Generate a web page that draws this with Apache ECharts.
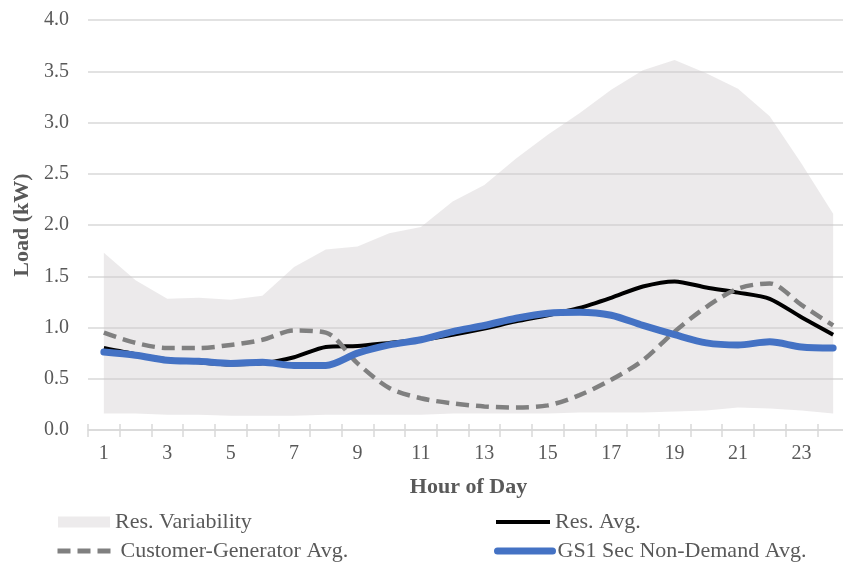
<!DOCTYPE html>
<html>
<head>
<meta charset="utf-8">
<script src="https://cdn.jsdelivr.net/npm/echarts@6/dist/echarts.min.js"></script>
<style>
html,body{margin:0;padding:0;background:#fff;}
#chart{width:843px;height:565px;}
</style>
</head>
<body>
<div id="chart"></div>
<script>
var hours = ['1','2','3','4','5','6','7','8','9','10','11','12','13','14','15','16','17','18','19','20','21','22','23','24'];
var yTicks = [0, 0.5, 1, 1.5, 2, 2.5, 3, 3.5, 4];
var resUpper = [1.73,1.46,1.28,1.29,1.27,1.31,1.59,1.76,1.79,1.92,1.98,2.23,2.39,2.65,2.88,3.09,3.32,3.51,3.61,3.48,3.33,3.06,2.60,2.11];
var resLower = [0.16,0.16,0.15,0.15,0.14,0.14,0.14,0.15,0.15,0.15,0.15,0.16,0.16,0.16,0.16,0.17,0.17,0.17,0.18,0.19,0.22,0.21,0.19,0.16];
var resAvg = [0.80,0.74,0.69,0.66,0.64,0.65,0.71,0.81,0.82,0.85,0.88,0.93,0.99,1.06,1.12,1.19,1.29,1.40,1.45,1.39,1.34,1.28,1.10,0.93];
var custGen = [0.95,0.85,0.80,0.80,0.83,0.88,0.97,0.95,0.65,0.41,0.31,0.26,0.23,0.22,0.24,0.34,0.49,0.68,0.96,1.20,1.38,1.43,1.22,1.02];
var gs1 = [0.76,0.73,0.68,0.67,0.65,0.66,0.63,0.63,0.75,0.83,0.88,0.96,1.02,1.09,1.14,1.15,1.12,1.02,0.93,0.85,0.83,0.86,0.81,0.80];

var bandSpan = resUpper.map(function(v, i){ return +(v - resLower[i]).toFixed(3); });

var FONT = 'Liberation Serif';
var TXT = '#595959';
var GRID = '#D9D9D9';

function legendAt(name, left, top, w, h, extra) {
  var o = {
    data: [name],
    left: left, top: top,
    itemWidth: w, itemHeight: h,
    padding: 0,
    selectedMode: false,
    textStyle: {fontFamily: FONT, fontSize: 22, color: TXT}
  };
  for (var k in extra) o[k] = extra[k];
  return o;
}

var chart = echarts.init(document.getElementById('chart'));
chart.setOption({
  animation: false,
  backgroundColor: '#ffffff',
  grid: {left: 88, right: -6, top: 20, bottom: 135, containLabel: false, outerBoundsMode: 'none'},
  legend: [
    legendAt('Res. Variability', 58, 511, 52, 11, {icon: 'rect', itemStyle: {color: '#EDEBEC', borderWidth: 0, opacity: 1}}),
    legendAt('Res. Avg.', 494, 511, 54, 12, {lineStyle: {width: 4}, itemStyle: {opacity: 0}}),
    legendAt('Customer-Generator Avg.', 55, 540, 58, 12, {lineStyle: {width: 5}, itemStyle: {opacity: 0}}),
    legendAt('GS1 Sec Non-Demand Avg.', 494, 540, 55, 12, {lineStyle: {width: 7}, itemStyle: {opacity: 0}})
  ],
  xAxis: [{
    type: 'category',
    data: hours,
    boundaryGap: true,
    name: 'Hour of Day',
    nameLocation: 'middle',
    nameGap: 46,
    nameTextStyle: {fontFamily: FONT, fontSize: 22, fontWeight: 'bold', color: TXT},
    axisLine: {show: true, lineStyle: {color: GRID, width: 1.5}},
    axisTick: {show: true, interval: 0, length: 7, lineStyle: {color: GRID, width: 1.5}},
    axisLabel: {interval: 1, margin: 14, fontFamily: FONT, fontSize: 20, color: TXT},
    splitLine: {show: false}
  }, {
    type: 'category',
    data: hours,
    boundaryGap: true,
    position: 'bottom',
    axisLine: {show: false},
    axisTick: {show: true, inside: true, interval: 0, length: 6, lineStyle: {color: GRID, width: 1.5}},
    axisLabel: {show: false},
    splitLine: {show: false}
  }],
  yAxis: {
    type: 'value',
    min: yTicks[0],
    max: yTicks[yTicks.length - 1],
    interval: 0.5,
    name: 'Load (kW)',
    nameLocation: 'middle',
    nameGap: 55,
    nameRotate: 90,
    nameTextStyle: {fontFamily: FONT, fontSize: 22, fontWeight: 'bold', color: TXT},
    axisLine: {show: false},
    axisTick: {show: false},
    axisLabel: {margin: 19, fontFamily: FONT, fontSize: 20, color: TXT,
      formatter: function(v){ return v.toFixed(1); }},
    splitLine: {show: true, lineStyle: {color: GRID, width: 1.5}}
  },
  series: [
    {
      name: 'band-base',
      type: 'line',
      stack: 'band',
      data: resLower,
      symbol: 'none',
      lineStyle: {opacity: 0},
      silent: true,
      z: 1
    },
    {
      name: 'Res. Variability',
      type: 'line',
      stack: 'band',
      data: bandSpan,
      symbol: 'none',
      itemStyle: {color: '#EDEBEC'},
      lineStyle: {opacity: 0},
      areaStyle: {color: 'rgba(205,200,203,0.38)', opacity: 1},
      z: 1
    },
    {
      name: 'Res. Avg.',
      type: 'line',
      data: resAvg,
      symbol: 'none',
      smooth: 0.25,
      itemStyle: {color: '#000000'},
      lineStyle: {color: '#000000', width: 4},
      z: 3
    },
    {
      name: 'Customer-Generator Avg.',
      type: 'line',
      data: custGen,
      symbol: 'none',
      smooth: 0.3,
      itemStyle: {color: '#808080'},
      lineStyle: {color: '#808080', width: 4.5, type: [13, 7], cap: 'butt'},
      z: 4
    },
    {
      name: 'GS1 Sec Non-Demand Avg.',
      type: 'line',
      data: gs1,
      symbol: 'none',
      smooth: 0.3,
      itemStyle: {color: '#4472C4'},
      lineStyle: {color: '#4472C4', width: 7, cap: 'round'},
      z: 5
    }
  ]
});
</script>
</body>
</html>
